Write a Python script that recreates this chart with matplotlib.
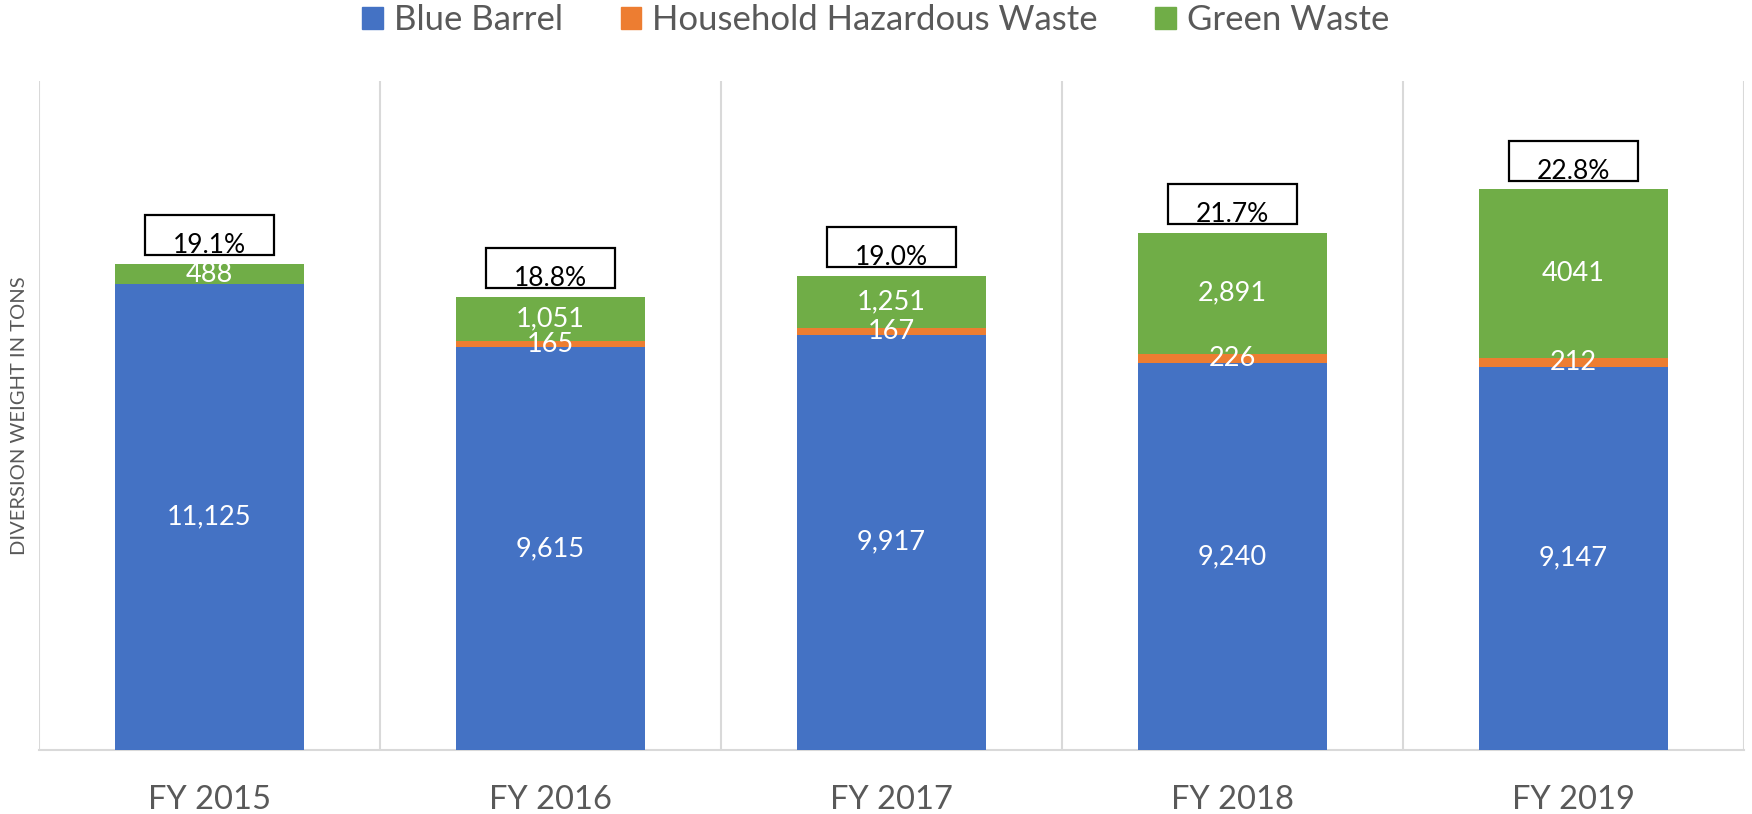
import matplotlib
matplotlib.use("Agg")
import matplotlib.pyplot as plt
from matplotlib.patches import Rectangle, Patch
import numpy as np

years = ["FY 2015", "FY 2016", "FY 2017", "FY 2018", "FY 2019"]
blue_barrel = [11125, 9615, 9917, 9240, 9147]
hhw = [0, 165, 167, 226, 212]
green_waste = [488, 1051, 1251, 2891, 4041]
green_labels = ["488", "1,051", "1,251", "2,891", "4041"]
diversion_pct = ["19.1%", "18.8%", "19.0%", "21.7%", "22.8%"]

C_BLUE, C_ORANGE, C_GREEN = "#4472C4", "#ED7D31", "#70AD47"
GRAY_TXT = "#595959"
GRID = "#D9D9D9"
FONT = "Lato"

W, H, DPI = 17.52, 8.14, 100
fig = plt.figure(figsize=(W, H), dpi=DPI)
L, R, B, T = 39 / 1752, 1744 / 1752, 1 - 749.5 / 814, 1 - 80.5 / 814
ax = fig.add_axes([L, B, R - L, T - B])

x = np.arange(len(years))
bw = 0.557
ax.bar(x, blue_barrel, bw, color=C_BLUE, zorder=3)
ax.bar(x, hhw, bw, bottom=blue_barrel, color=C_ORANGE, zorder=3)
bot2 = np.array(blue_barrel) + np.array(hhw)
ax.bar(x, green_waste, bw, bottom=bot2, color=C_GREEN, zorder=3)
totals = bot2 + np.array(green_waste)

ax.set_xlim(-0.5, len(years) - 0.5)
ax.set_ylim(0, 16000)

lab_kw = dict(color="white", fontsize=19.5, family=FONT, ha="center", va="center", zorder=5)
for i in range(len(years)):
    ax.text(x[i], blue_barrel[i] / 2, f"{blue_barrel[i]:,}", **lab_kw)
    if hhw[i] > 0:
        ax.text(x[i], blue_barrel[i] + hhw[i] / 2, f"{hhw[i]:,}", **lab_kw)
    ax.text(x[i], bot2[i] + green_waste[i] / 2, green_labels[i], **lab_kw)

# percentage boxes
ax_h_px = H * DPI * (T - B)
tons_per_px = 16000 / ax_h_px
gap = 8.5 * tons_per_px
box_h = 40 * tons_per_px
box_w = 129 / 341
for i in range(len(years)):
    y0 = totals[i] + gap
    ax.add_patch(Rectangle((x[i] - box_w / 2, y0), box_w, box_h, facecolor="white",
                           edgecolor="black", lw=1.6, zorder=4, clip_on=False))
    ax.text(x[i], y0 + 2 * tons_per_px, diversion_pct[i], ha="center", va="baseline",
            fontsize=19, family=FONT, color="black", zorder=5)

# gridlines between categories
for gx in np.arange(-0.5, len(years), 1.0):
    ax.axvline(gx, color=GRID, lw=1.5, zorder=1)

for s in ["top", "right", "left"]:
    ax.spines[s].set_visible(False)
ax.spines["bottom"].set_color(GRID)
ax.spines["bottom"].set_linewidth(1.5)
ax.set_yticks([])
ax.set_xticks(x)
ax.set_xticklabels(years, fontsize=23.5, family=FONT, color=GRAY_TXT)
ax.tick_params(axis="x", length=0, pad=25.5)

fig.text(19.5 / 1752, 1 - 416 / 814, "DIVERSION WEIGHT IN TONS", rotation=90, ha="center",
         va="center", fontsize=14.5, family=FONT, color=GRAY_TXT)

handles = [Patch(color=C_BLUE), Patch(color=C_ORANGE), Patch(color=C_GREEN)]
leg = fig.legend(handles, ["Blue Barrel", "Household Hazardous Waste", "Green Waste"],
                 loc="center", bbox_to_anchor=(0.5, 1 - 20 / 814), ncol=3, frameon=False,
                 prop={"family": FONT, "size": 25}, handlelength=0.6, handleheight=0.6,
                 handletextpad=0.32, columnspacing=1.65, borderaxespad=0, borderpad=0)
for t in leg.get_texts():
    t.set_color(GRAY_TXT)

fig.savefig("out.png", dpi=DPI)
